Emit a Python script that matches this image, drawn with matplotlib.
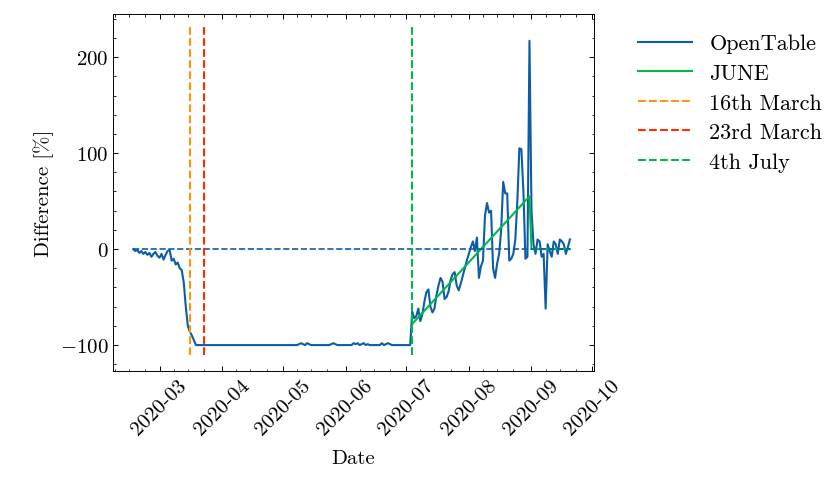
import matplotlib
matplotlib.use("Agg")
import matplotlib.pyplot as plt
import matplotlib.dates as mdates
import pandas as pd
import numpy as np

plt.rcParams.update({
    "font.family": ["cmr10", "DejaVu Serif"],
    "mathtext.fontset": "cm",
    "axes.formatter.use_mathtext": True,
    "font.size": 15,
    "xtick.direction": "in", "ytick.direction": "in",
    "xtick.top": True, "ytick.right": True,
    "xtick.minor.visible": True, "ytick.minor.visible": True,
    "xtick.major.size": 3.5, "ytick.major.size": 3.5,
    "xtick.minor.size": 1.8, "ytick.minor.size": 1.8,
    "axes.linewidth": 0.7, "xtick.major.width": 0.7, "ytick.major.width": 0.7,
    "xtick.minor.width": 0.6, "ytick.minor.width": 0.6,
    "axes.unicode_minus": True,
})

pre_values = [0, -2, -1, -4, -2, -5, -3, -6, -4, -8, -5, -3, -7, -9, -5, -11, -6, -2, -1,
              -12, -10, -16, -14, -20, -22, -35, -60, -80, -86, -90, -95, -100]
lock_values = ([-100] * 50 + [-99, -98, -99, -100, -98, -99] + [-100] * 10 + [-99, -98, -99]
               + [-100] * 8 + [-98, -99, -98, -100, -99, -98, -100, -99] + [-100] * 6
               + [-98, -100, -99, -98, -99] + [-100] * 10)
post_values = [-65, -72, -70, -62, -75, -68, -55, -45, -42, -60, -66, -62, -48, -38, -30, -34,
               -52, -50, -44, -32, -26, -24, -38, -43, -36, -28, -20, -12, -5, 2, 8, -2, 12,
               -30, -18, -12, 35, 48, 38, 40, -20, -30, -15, -5, 20, 70, 58, 58, -12, -10, -5,
               10, 50, 105, 104, 60, -10, -8, 217, 40, 5, -5, 10, 8, -8, -5, -62, 5, -2, -8,
               8, 5, -5, 10, 8, 5, -5, 2, 10]

post_start = pd.Timestamp("2020-07-04")
post_dates = pd.date_range(post_start, periods=len(post_values))
lock_dates = pd.date_range(end=post_start - pd.Timedelta(days=1), periods=len(lock_values))
pre_dates = pd.date_range(end=lock_dates[0] - pd.Timedelta(days=1), periods=len(pre_values))
dates = pre_dates.append(lock_dates).append(post_dates)
values = pre_values + lock_values + post_values

june_dates = pd.to_datetime(["2020-07-04", "2020-08-31", "2020-09-01", str(post_dates[-1].date())])
june_values = [-78, 55, 0, 0]

events = [("16th March", "2020-03-16", "#FF9500"),
          ("23rd March", "2020-03-23", "#FF2C00"),
          ("4th July", "2020-07-04", "#00B945")]

fig = plt.figure(figsize=(8.31, 4.81), dpi=100)
ax = fig.add_axes([0.136, 0.2266, 0.579, 0.7424])
ax.plot(dates, values, color="#0C5DA5", lw=1.5, label="OpenTable")
ax.plot(june_dates, june_values, color="#00B945", lw=1.5, label="JUNE")
ax.plot([dates[0], dates[-1]], [0, 0], color="#0C5DA5", lw=1.2, ls="--")
for name, d, c in events:
    ax.plot([pd.Timestamp(d)] * 2, [-110, 232], color=c, lw=1.5, ls="--", label=name)

ax.set_xlim(pd.Timestamp("2020-02-07"), pd.Timestamp("2020-10-02"))
ax.set_ylim(-127, 245)
ax.xaxis.set_major_locator(mdates.MonthLocator())
ax.xaxis.set_major_formatter(mdates.DateFormatter("%Y-%m"))
ax.xaxis.set_minor_locator(mdates.DayLocator(bymonthday=[8, 15, 23]))
ax.set_yticks([-100, 0, 100, 200])
for lab in ax.get_xticklabels():
    lab.set_rotation(45)
ax.set_xlabel("Date", labelpad=8)
ax.set_ylabel("Difference [%]")
ax.legend(loc="upper left", bbox_to_anchor=(1.05, 1.0), frameon=False, fontsize=16,
          handlelength=2.4, labelspacing=0.45)
fig.savefig("out.png", dpi=100)
